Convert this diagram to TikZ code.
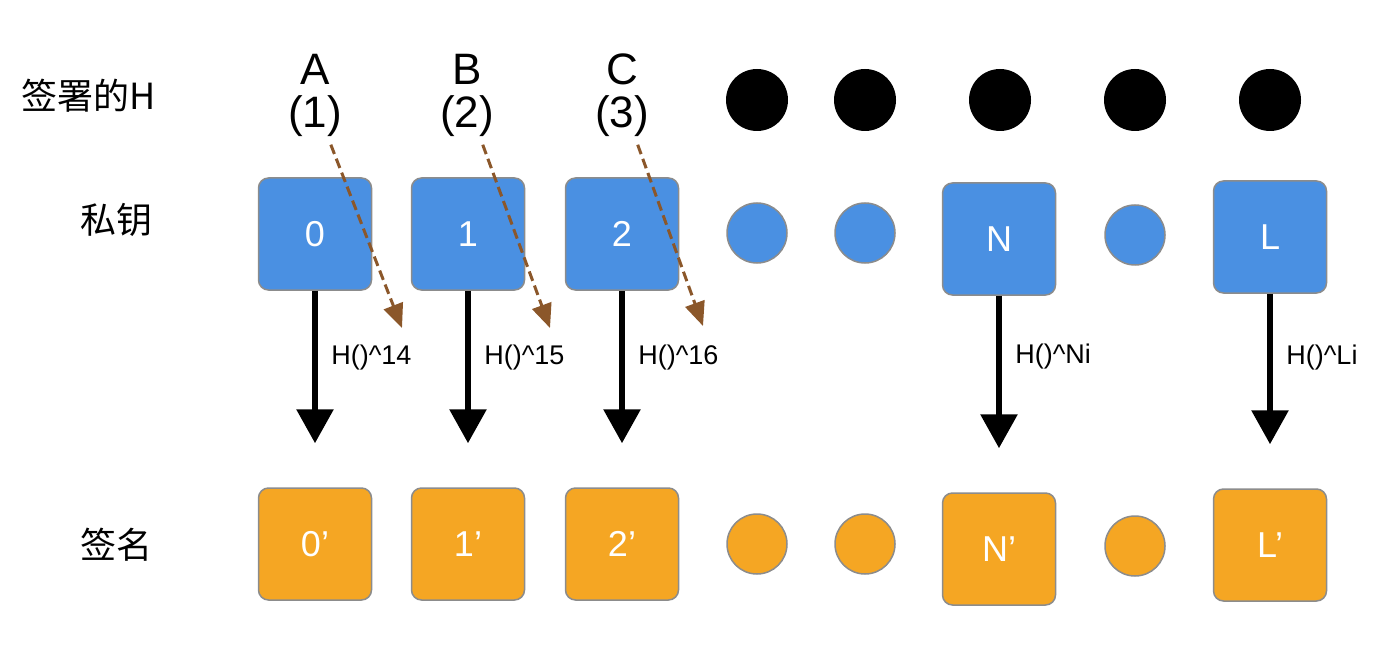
\documentclass[tikz,border=0pt]{standalone}
\usepackage{fontspec}
\setmainfont{Liberation Sans}
\newfontfamily\cjk{Noto Sans CJK SC}
\usetikzlibrary{arrows.meta}

\definecolor{keyblue}{HTML}{4A90E2}
\definecolor{sigorange}{HTML}{F5A623}
\definecolor{hintbrown}{HTML}{8B572A}

\tikzset{
  box/.style={rounded corners=10pt, draw=black!45, line width=1.5pt,
    minimum width=113pt, minimum height=112pt, text=white,
    font=\fontsize{36}{38}\selectfont},
  keybox/.style={box, fill=keyblue},
  sigbox/.style={box, fill=sigorange},
  dot/.style={circle, draw=black!45, line width=1.5pt, minimum size=60pt, inner sep=0pt},
  hdot/.style={circle, fill=black, minimum size=62pt, inner sep=0pt},
  rowlabel/.style={font=\cjk\fontsize{36}{40}\selectfont},
  toplabel/.style={font=\fontsize{44}{47}\selectfont},
  hashpath/.style={line width=6pt, -{Triangle[width=36pt,length=34pt]}, shorten >=44pt},
  hashlabel/.style={font=\fontsize{27}{30}\selectfont, anchor=west, xshift=10pt},
  hint/.style={hintbrown, line width=3pt, dash pattern=on 10pt off 5pt,
    shorten <=5pt, -{Triangle[width=20pt,length=24pt]}}
}

\begin{document}
\begin{tikzpicture}[x=1pt,y=-1pt]
  \useasboundingbox (0,0) rectangle (1394,668);
  % row labels
  \node[rowlabel] (rowH) at (89,96) {签署的H};
  \node[rowlabel] (rowKey) at (116,220) {私钥};
  \node[rowlabel] (rowSig) at (116,545) {签名};
  % letters and numbers on top
  \foreach \x/\l/\k in {315/A/1, 467/B/2, 622/C/3}{
    \node[toplabel] (top\l) at (\x,69) {\l};
    \node[toplabel] (num\k) at (\x,116) {(\k)};
  }
  % signed H
  \foreach \x [count=\i] in {757,865,1000,1135,1270}
    \node[hdot] (h\i) at (\x,100) {};
  % private keys
  \node[keybox] (k0) at (315,234) {0};
  \node[keybox] (k1) at (468,234) {1};
  \node[keybox] (k2) at (622,234) {2};
  \node[dot, fill=keyblue] (kd1) at (757,233) {};
  \node[dot, fill=keyblue] (kd2) at (865,233) {};
  \node[keybox] (kN) at (999,239) {N};
  \node[dot, fill=keyblue] (kd3) at (1135,235) {};
  \node[keybox] (kL) at (1270,237) {L};
  % signatures
  \node[sigbox] (s0) at (315,544) {0’};
  \node[sigbox] (s1) at (468,544) {1’};
  \node[sigbox] (s2) at (622,544) {2’};
  \node[dot, fill=sigorange] (sd1) at (757,544) {};
  \node[dot, fill=sigorange] (sd2) at (865,544) {};
  \node[sigbox] (sN) at (999,549) {N’};
  \node[dot, fill=sigorange] (sd3) at (1135,546) {};
  \node[sigbox] (sL) at (1270,545) {L’};
  % hashing
  \foreach \a/\b/\h/\p in {k0/s0/14/0.34, k1/s1/15/0.34, k2/s2/16/0.34, kN/sN/Ni/0.31, kL/sL/Li/0.33}
    \draw[hashpath] (\a) -- node[hashlabel, pos=\p] {H()\textasciicircum\h} (\b);
  % hints
  \coordinate (t1) at (402,328);
  \coordinate (t2) at (550,328);
  \coordinate (t3) at (703,326);
  \foreach \k in {1,2,3}
    \draw[hint] ([xshift=14pt]num\k.south) -- (t\k);
\end{tikzpicture}
\end{document}
